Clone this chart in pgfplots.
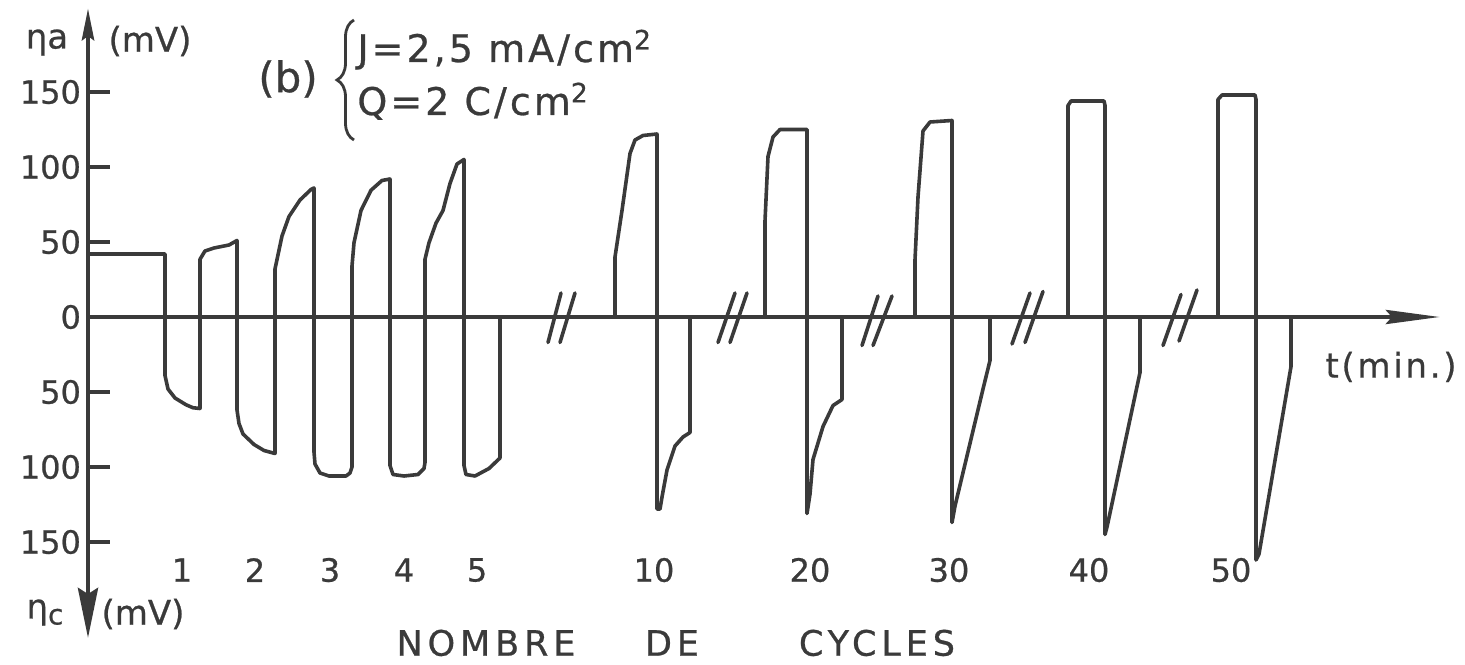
\documentclass[border=0pt]{standalone}
\usepackage{pgfplots}
\pgfplotsset{compat=1.18}
\usepackage{fontspec}
\setmainfont{DejaVu Sans}[FakeBold=0.7]
\usetikzlibrary{arrows.meta,decorations.pathreplacing}
\definecolor{ink}{RGB}{58,58,58}
\newcommand{\fs}[1]{\fontsize{#1}{#1}\selectfont}
\tikzset{trace/.style={ink, line width=1.8pt, line join=round, line cap=round, mark=none}}

\begin{document}
\begin{tikzpicture}
\begin{axis}[
  scale only axis,
  width=676pt, height=315pt,
  xmin=88, xmax=1440, ymin=-214, ymax=206,
  axis x line=middle, axis y line=left,
  x axis line style={line width=2.4pt, ink, -{Stealth[length=27pt,width=7pt,inset=3pt]}},
  y axis line style={line width=2.4pt, ink, {Stealth[length=25pt,width=10pt,inset=3pt]}-{Stealth[length=16pt,width=6pt,inset=2pt]}},
  xtick=\empty,
  ytick={-150,-100,-50,0,50,100,150},
  yticklabels={150,100,50,0,50,100,150},
  tick align=inside,
  major tick length=11pt,
  tick style={line width=1.8pt, ink},
  yticklabel style={font=\fs{16}, text=ink},
  clip=false,
]
% cycles 0-5
\addplot[trace] coordinates {
(88,42) (165,42) (165,-39) (168,-48) (175,-54) (186,-58.5) (193,-60.5) (200,-61)
(200,38.5) (205,44) (214,46) (229,48) (237,51)
(237,-62) (239,-71) (243,-78) (254,-85) (264,-89) (275,-91)
(275,32) (282,54) (289,67) (300,78) (311,85) (314,86)
(314,-90) (315,-98) (320,-104) (329,-106) (346,-106) (350,-104) (352,-100)
(352,34) (354,49.5) (361,71) (371,84.5) (382,91) (390,92)
(390,-99) (393,-105) (404,-106) (418,-105) (424,-101) (425,-97)
(425,38.5) (429,49.5) (436,62.6) (443,71) (450,89) (457,102) (464,105)
(464,-99) (466,-105) (475,-106) (489,-101) (500,-94) (500,0)
};
% cycle 10
\addplot[trace] coordinates {(615,0) (615,40) (622,71) (630,109) (635,118) (643,121) (657,122)
(657,-128) (660,-128) (662,-120) (667,-102) (675,-86) (683,-80) (690,-77) (690,0)};
% cycle 20
\addplot[trace] coordinates {(765,0) (765,64) (768,107) (773,120) (780,125) (807,125)
(807,-131) (810,-118) (813,-95) (823,-73) (833,-59) (842,-55) (842,0)};
% cycle 30
\addplot[trace] coordinates {(915,0) (915,38) (918,80) (923,124) (930,130) (952,131)
(952,-137) (955,-126) (983,-48) (990,-29) (990,0)};
% cycle 40
\addplot[trace] coordinates {(1068,0) (1068,141) (1071,144) (1104,144) (1105,141)
(1105,-145) (1107,-140) (1140,-37) (1140,0)};
% cycle 50
\addplot[trace] coordinates {(1218,0) (1218,145) (1222,148) (1255,148) (1256,145)
(1256,-162) (1259,-158) (1291,-33) (1291,0)};
% axis breaks
\addplot[trace] coordinates {(548,-17) (561,16)};
\addplot[trace] coordinates {(560,-17) (575,16)};
\addplot[trace] coordinates {(718,-17) (735,16)};
\addplot[trace] coordinates {(730,-17) (747,16)};
\addplot[trace] coordinates {(862,-19) (878,14)};
\addplot[trace] coordinates {(873,-19) (892,14)};
\addplot[trace] coordinates {(1012,-18) (1030,16)};
\addplot[trace] coordinates {(1025,-17) (1043,17)};
\addplot[trace] coordinates {(1163,-19) (1181,15)};
\addplot[trace] coordinates {(1179,-16) (1197,18)};

\coordinate (BL) at (axis cs:88,-214);

% labels
\node[text=ink, font=\fs{17}] at (axis cs:47,183) {ηa};
\node[text=ink, font=\fs{17}] at (axis cs:150,184) {(mV)};
\node[text=ink, font=\fs{17}] at (axis cs:45,-197) {η\raisebox{-3pt}{\fs{14}c}};
\node[text=ink, font=\fs{17}] at (axis cs:143,-198) {(mV)};
\node[text=ink, font=\fs{21}] at (axis cs:288,158.7) {(b)};
\draw[ink, line width=1.4pt, decorate, decoration={brace, amplitude=8.5pt}] (axis cs:354,118) -- (axis cs:354,198);
\node[text=ink, font=\fs{19}\addfontfeatures{LetterSpace=8}, anchor=base west, inner sep=0pt] at (axis cs:357,170) {J=2,5 mA/cm\textsuperscript{2}};
\node[text=ink, font=\fs{19}\addfontfeatures{LetterSpace=8}, anchor=base west, inner sep=0pt] at (axis cs:357,134.7) {Q=2 C/cm\textsuperscript{2}};
\node[text=ink, font=\fs{17}\addfontfeatures{LetterSpace=8}] at (axis cs:1391,-33.3) {t(min.)};
\node[text=ink, font=\fs{16}] at (axis cs:182,-168.7) {1};
\node[text=ink, font=\fs{16}] at (axis cs:255,-168.7) {2};
\node[text=ink, font=\fs{16}] at (axis cs:330,-168.7) {3};
\node[text=ink, font=\fs{16}] at (axis cs:404,-168.7) {4};
\node[text=ink, font=\fs{16}] at (axis cs:477,-168.7) {5};
\node[text=ink, font=\fs{16}] at (axis cs:654,-168.7) {10};
\node[text=ink, font=\fs{16}] at (axis cs:810,-168.7) {20};
\node[text=ink, font=\fs{16}] at (axis cs:949,-168.7) {30};
\node[text=ink, font=\fs{16}] at (axis cs:1089,-168.7) {40};
\node[text=ink, font=\fs{16}] at (axis cs:1231,-168.7) {50};
\node[text=ink, font=\fs{17.5}\addfontfeatures{LetterSpace=14}] at (axis cs:486,-217.3) {NOMBRE};
\node[text=ink, font=\fs{17.5}\addfontfeatures{LetterSpace=14}] at (axis cs:672,-217.3) {DE};
\node[text=ink, font=\fs{17.5}\addfontfeatures{LetterSpace=14}] at (axis cs:877,-217.3) {CYCLES};
\end{axis}
\pgfresetboundingbox
\path (BL) ++(-44pt,-13pt) rectangle ++(732.5pt,332pt);
\end{tikzpicture}
\end{document}
